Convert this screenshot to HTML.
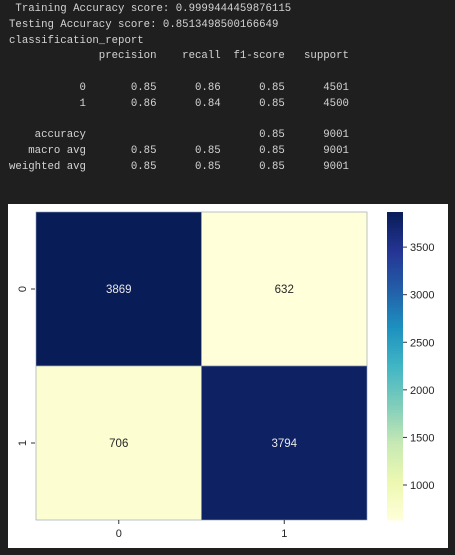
<!DOCTYPE html>
<html><head><meta charset="utf-8"><style>
body{margin:0;width:455px;height:555px;background:#1f1f1f;overflow:hidden;position:relative;font-family:"Liberation Sans",sans-serif}
pre{position:absolute;left:9px;top:2px;margin:0;color:#d4d4d4;font-family:"Liberation Mono",monospace;font-size:10.7px;line-height:15.8px}
#fig{position:absolute;left:8px;top:204px;width:440px;height:344px;background:#fff}
</style></head><body>
<pre> Training Accuracy score: 0.9999444459876115
Testing Accuracy score: 0.8513498500166649
classification_report
              precision    recall  f1-score   support

           0       0.85      0.86      0.85      4501
           1       0.86      0.84      0.85      4500

    accuracy                           0.85      9001
   macro avg       0.85      0.85      0.85      9001
weighted avg       0.85      0.85      0.85      9001
</pre>
<div id="fig"></div>
<svg id="svg" width="455" height="555" style="position:absolute;left:0;top:0"></svg>
<script>
const rowLabels=["0","1"];
const colLabels=["0","1"];
const row0=[3869,632];
const row1=[706,3794];
const cbTicks=[1000,1500,2000,2500,3000,3500];
const matrix=[row0,row1];
const NS="http://www.w3.org/2000/svg";
const svg=document.getElementById('svg');
const X0=36,X1=367,Y0=212,Y1=520;
const all=matrix.flat(),vmin=Math.min(...all),vmax=Math.max(...all);
const stops=[[255,255,217],[237,248,177],[199,233,180],[127,205,187],[65,182,196],[29,145,192],[34,94,168],[37,52,148],[8,29,88]];
function cmap(v){let t=(v-vmin)/(vmax-vmin);t=Math.max(0,Math.min(1,t))*(stops.length-1);const i=Math.min(Math.floor(t),stops.length-2),f=t-i;const c=stops[i].map((a,k)=>Math.round(a+(stops[i+1][k]-a)*f));return `rgb(${c})`;}
function el(tag,attrs){const e=document.createElementNS(NS,tag);for(const k in attrs)e.setAttribute(k,attrs[k]);svg.appendChild(e);return e;}
const cw=(X1-X0)/colLabels.length,ch=(Y1-Y0)/rowLabels.length;
const xS=j=>X0+j*cw,yS=i=>Y0+i*ch;
matrix.forEach((r,i)=>r.forEach((v,j)=>{
 const c=el('rect',{x:xS(j),y:yS(i),width:cw,height:ch,fill:cmap(v),stroke:'#8a9bb5','stroke-width':0.6});
 
 
 const t=el('text',{x:xS(j)+cw/2,y:yS(i)+ch/2+4,'text-anchor':'middle','font-size':11.5,fill:(v-vmin)/(vmax-vmin)>0.5?'#e8e8e8':'#262626'});
 t.textContent=v;
 
 
}));
rowLabels.forEach((l,i)=>{
 const y=yS(i)+ch/2;
 el('line',{x1:31,x2:35,y1:y,y2:y,stroke:'#333'});
 const t=el('text',{x:26,y:y,'font-size':11,fill:'#262626','text-anchor':'middle',transform:`rotate(-90 26 ${y})`});
 t.textContent=l;
 
 
});
colLabels.forEach((l,j)=>{
 const x=xS(j)+cw/2;
 el('line',{x1:x,x2:x,y1:520,y2:524,stroke:'#333'});
 const t=el('text',{x:x,y:537,'font-size':11,fill:'#262626','text-anchor':'middle'});
 t.textContent=l;
 
 
});
const CX=387,CW=16;
const cbY=v=>Y1-(v-vmin)/(vmax-vmin)*(Y1-Y0);
for(let k=0;k<120;k++){const v0=vmin+(vmax-vmin)*k/120;const v1=vmin+(vmax-vmin)*(k+1)/120;
 el('rect',{x:CX,y:cbY(v1),width:CW,height:cbY(v0)-cbY(v1)+0.5,fill:cmap((v0+v1)/2)});}
cbTicks.forEach(v=>{const y=cbY(v);
 el('line',{x1:CX+CW,x2:CX+CW+4,y1:y,y2:y,stroke:'#333'});
 const t=el('text',{x:CX+CW+7,y:y+4,'font-size':11,fill:'#262626'});
 t.textContent=v;
 
 
});
</script>
</body></html>
